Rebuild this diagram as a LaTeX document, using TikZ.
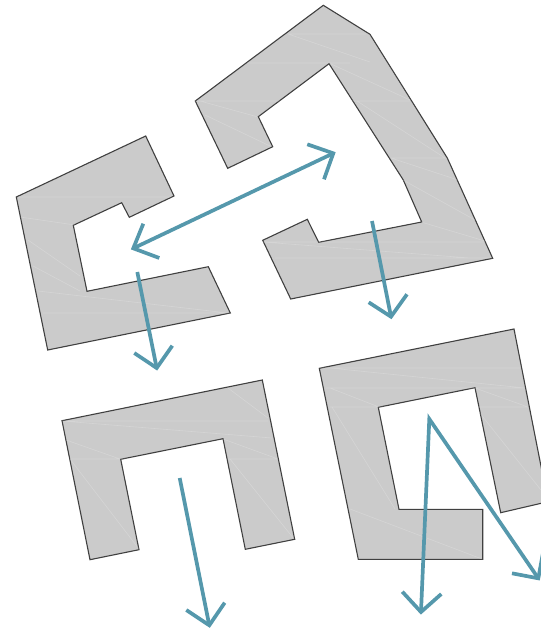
\documentclass[tikz,border=0pt]{standalone}
\definecolor{wallfill}{HTML}{CBCBCB}
\definecolor{walledge}{HTML}{404040}
\definecolor{ray}{HTML}{5598AC}
\tikzset{
  wall/.style={fill=wallfill,draw=walledge,line width=1.1pt,line join=miter},
  seam/.style={draw=white,line width=.6pt,opacity=.2},
  rayline/.style={draw=ray,line width=3.7pt,line join=miter,line cap=butt},
}
\begin{document}
\begin{tikzpicture}[x=1pt,y=-1pt]
\useasboundingbox (0,0) rectangle (541,630);
\clip (0,0) rectangle (541,630);
% walls
\draw[wall] (16.3,197) -- (145.7,136) -- (174,196) -- (129.3,217.3) -- (121.7,202.7) -- (73.3,225.3) -- (87,291.3) -- (208.3,266.7) -- (230.3,313) -- (47.7,350) -- cycle;
\draw[wall] (323.3,5.3) -- (370,34.3) -- (447.3,158) -- (492.7,258.3) -- (290.7,299) -- (262.7,240.3) -- (307.3,219.3) -- (318.7,242.3) -- (421.7,222) -- (403.3,180) -- (329,63.7) -- (258.3,116.7) -- (272.7,146.7) -- (227.7,168.3) -- (195.3,101) -- cycle;
\draw[wall] (319.3,368.3) -- (514,329) -- (548,501.7) -- (500.7,512.7) -- (475,387.7) -- (378.3,407.3) -- (399,509.3) -- (482.7,509.3) -- (482.7,559.3) -- (358.3,559.3) -- cycle;
\draw[wall] (62,420.7) -- (262.3,380) -- (294.7,539.3) -- (245.3,549.3) -- (223,438.7) -- (120.7,459.3) -- (139,549.7) -- (90,559.7) -- cycle;
% seams
\draw[seam] (18,197) -- (172,197) (20,217) -- (75,225) (28,240) -- (80,276) (33,266) -- (80,291) (38,291) -- (228,313) (43,313) -- (230,313);
\draw[seam] (288,34) -- (370,62) (331,64) -- (410,100) (357,101) -- (445,158) (391,158) -- (458,180) (403,180) -- (475,220) (421,222) -- (485,241) (263,242) -- (470,258) (200,101) -- (258,117) (205,115) -- (270,146) (288,34) -- (366,34) (247,63) -- (350,63) (195,101) -- (410,101) (391,158) -- (447,158) (263,242) -- (485,242) (275,258) -- (492,258);
\draw[seam] (330,368) -- (525,388) (379,407) -- (330,388) (475,388) -- (528,407) (332,407) -- (395,509) (475,407) -- (541,490) (350,509) -- (482,559) (322,368) -- (520,368) (326,388) -- (525,388) (330,407) -- (528,407);
\draw[seam] (62,421) -- (272,438) (66,440) -- (120,459) (70,459) -- (139,549) (223,439) -- (278,459) (230,459) -- (294,539) (228,388) -- (268,418) (62,421) -- (268,421) (70,459) -- (278,459);
% rays
\draw[rayline] (143.3,223.7) -- (133.3,248.3) -- (159.3,258);
\draw[rayline] (133.3,248.3) -- (333.3,153.3);
\draw[rayline] (307.3,144.3) -- (333.3,153.3) -- (324,179.3);
\draw[rayline] (137.3,272) -- (156.7,368);
\draw[rayline] (134.3,353) -- (156.7,368) -- (172.3,345.7);
\draw[rayline] (372,221) -- (391,316.7);
\draw[rayline] (368.7,302.3) -- (391,316.7) -- (407,294.3);
\draw[rayline] (179.7,478) -- (209.3,625.3);
\draw[rayline] (186.3,610) -- (209.3,625.3) -- (224.7,602.7);
\draw[rayline] (421,612) -- (429.3,419) -- (538.3,578.3);
\draw[rayline] (402.3,591.7) -- (421,612) -- (441.3,594);
\draw[rayline] (512,573.3) -- (538.3,578.3) -- (543.2,551.9);
\end{tikzpicture}
\end{document}
